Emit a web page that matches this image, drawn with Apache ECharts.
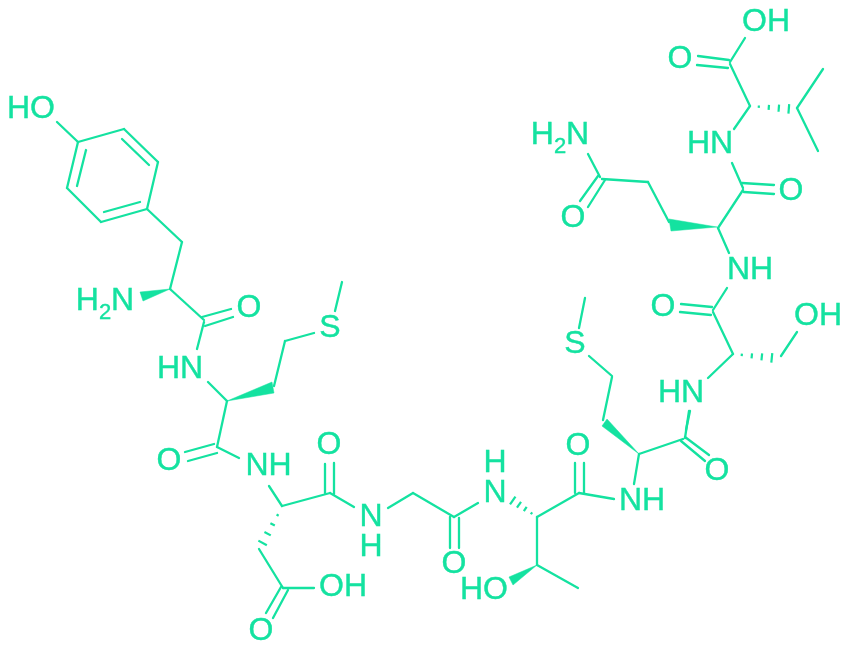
<!DOCTYPE html>
<html>
<head>
<meta charset="utf-8">
<style>html,body{margin:0;padding:0;background:#fff}#c{width:852px;height:651px}</style>
<script src="https://cdn.jsdelivr.net/npm/echarts@6/dist/echarts.min.js"></script>
</head>
<body>
<div id="c"></div>
<script>
const INK = '#14e2a0';
// single bonds and each stroke of the double bonds: [x1, y1, x2, y2]
const bonds = [
  [57,122,78,142],[78,142,124,129],[124,129,158,162],[158,162,147,209],[147,209,101,222],[101,222,67,188],[67,188,78,142],
  [86,150,77,186],[122,139,149,165],[140,202,104,212],
  [147,209,182,242],[182,242,170,289],[170,289,204,320],
  [202,317,231,309],[205,326,233,317],[204,322,197,349],
  [208,382,227,401],[227,401,217,447],[185,452,214,444],[188,461,217,453],[217,447,239,458],
  [274,386,285,341],[285,341,314,333],[335,311,342,282],
  [269,486,282,506],[282,506,330,493],[325,464,325,493],[334,463,334,494],[330,493,354,507],
  [388,508,413,493],[413,493,454,517],[450,517,450,548],[459,518,459,548],[454,517,478,503],
  [259,549,283,588],[283,588,314,588],[266,613,281,587],[273,618,288,590],
  [537,517,579,493],[575,463,575,493],[584,463,584,493],[579,493,614,499],
  [537,517,537,565],[537,565,578,588],
  [634,484,639,454],[639,454,683,439],[681,441,705,461],[685,437,709,455],[685,438,689,411],
  [603,420,612,377],[612,376,589,356],[579,328,585,298],
  [690,411,686,430],[708,378,733,354],
  [733,354,713,312],[681,304,712,307],[680,312,711,315],[713,310,727,288],
  [781,356,797,332],
  [729,253,718,228],[718,228,743,190],[742,183,774,185],[744,192,774,194],[743,188,732,163],
  [669,222,648,182],[648,182,602,179],[600,177,588,154],[580,201,598,176],[588,207,605,180],
  [734,129,750,106],[750,106,730,64],[698,56,729,60],[697,65,728,68],[730,62,745,38],
  [797,108,823,69],[797,108,818,151]
];
// solid wedges: [tipX, tipY, baseX1, baseY1, baseX2, baseY2]
const wedges = [
  [170,289,140,292,143,301],
  [227,401,272,382,274,393],
  [639,454,602,426,607,419],
  [537,565,509,577,513,585],
  [717,227,669,219,671,231]
];
// hashed wedges: [tipX, tipY, endX, endY]
const hashes = [
  [282,507,262,544],
  [537,517,512,500],
  [733,354,773,358],
  [750,106,790,109]
];
// atom labels: [x, y, text]
const atoms = [
  [31,109,'HO'],[105,301,'H{s|2}N'],[249,308,'O'],[180,369,'HN'],[330,328,'S'],
  [169,461,'O'],[268.5,466,'NH'],[329,445,'O'],[371,532,'N\nH'],[343,587,'OH'],[261,631,'O'],
  [454,564,'O'],[495,478,'H\nN'],[484,590,'HO'],[578,446,'O'],[642,501,'NH'],[575,344,'S'],
  [681,393,'HN'],[717,471,'O'],[818,316,'OH'],[750,270,'NH'],[663,307,'O'],
  [560,135,'H{s|2}N'],[573,218,'O'],[791,191,'O'],[710,144,'HN'],[680,59,'O'],[766,22,'OH']
];

const chart = echarts.init(document.getElementById('c'), null, {renderer:'canvas'});
chart.setOption({
  animation:false,
  backgroundColor:'#fff',
  grid:{left:0,right:0,top:0,bottom:0},
  xAxis:{type:'value',min:0,max:852,show:false},
  yAxis:{type:'value',min:0,max:651,inverse:true,show:false},
  series:[
    {
      type:'custom', name:'bonds', coordinateSystem:'cartesian2d', silent:true,
      encode:{x:[0,2],y:[1,3]},
      data:bonds,
      renderItem:(p,api)=>{
        const a=api.coord([api.value(0),api.value(1)]), b=api.coord([api.value(2),api.value(3)]);
        return {type:'line',shape:{x1:a[0],y1:a[1],x2:b[0],y2:b[1]},
          style:{stroke:INK,lineWidth:2.3,lineCap:'round',fill:null}};
      }
    },
    {
      type:'custom', name:'wedges', coordinateSystem:'cartesian2d', silent:true,
      encode:{x:[0,2,4],y:[1,3,5]},
      data:wedges,
      renderItem:(p,api)=>{
        const pts=[0,2,4].map(i=>api.coord([api.value(i),api.value(i+1)]));
        return {type:'polygon',shape:{points:pts},style:{fill:INK,stroke:INK,lineWidth:0.5}};
      }
    },
    {
      type:'custom', name:'hashes', coordinateSystem:'cartesian2d', silent:true,
      encode:{x:[0,2],y:[1,3]},
      data:hashes,
      renderItem:(p,api)=>{
        const a=api.coord([api.value(0),api.value(1)]), b=api.coord([api.value(2),api.value(3)]);
        const dx=b[0]-a[0], dy=b[1]-a[1], len=Math.hypot(dx,dy), nx=-dy/len, ny=dx/len;
        const stops=[0.22,0.47,0.72,0.97], halves=[1.2,2.5,3.6,4.8];
        return {type:'group',children:stops.map((t,i)=>({
          type:'line',
          shape:{x1:a[0]+dx*t+nx*halves[i],y1:a[1]+dy*t+ny*halves[i],
                 x2:a[0]+dx*t-nx*halves[i],y2:a[1]+dy*t-ny*halves[i]},
          style:{stroke:INK,lineWidth:2.2,fill:null}
        }))};
      }
    },
    {
      type:'scatter', name:'atoms', silent:true, symbolSize:0,
      itemStyle:{opacity:1},
      data:atoms.map(a=>({value:[a[0],a[1]],name:a[2]})),
      label:{
        show:true, position:'inside', align:'center', verticalAlign:'middle',
        formatter:p=>p.name,
        fontFamily:'Liberation Sans', fontSize:32, color:INK, lineHeight:30, opacity:1,
        textBorderColor:INK, textBorderWidth:0.4,
        rich:{ s:{fontFamily:'Liberation Sans',fontSize:22,color:INK,lineHeight:20,verticalAlign:'top',padding:[16,0,0,0],textBorderColor:INK,textBorderWidth:0.4} }
      }
    }
  ]
});
</script>
</body>
</html>
